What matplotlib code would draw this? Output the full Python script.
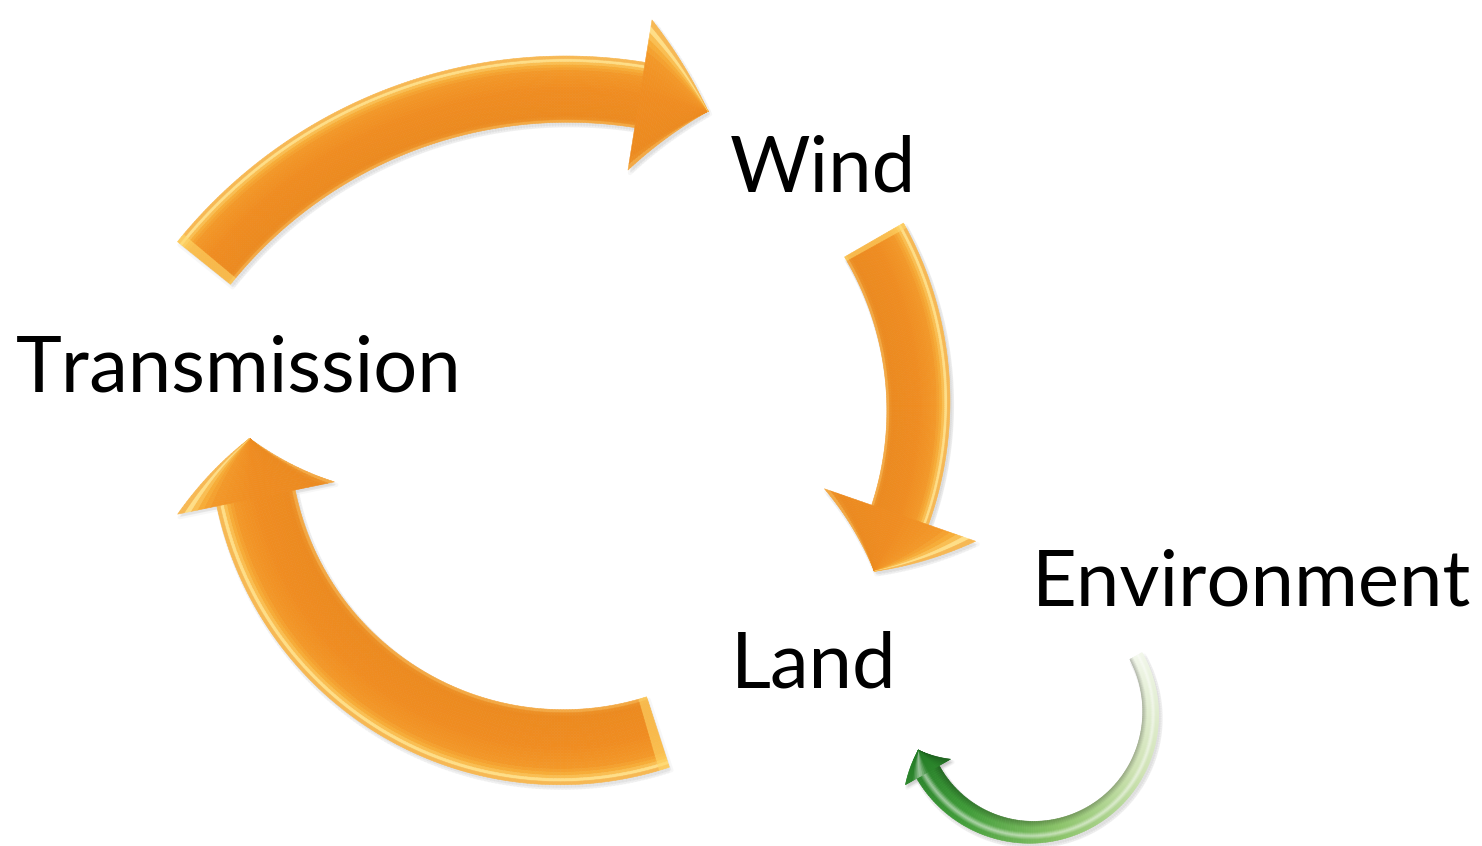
import numpy as np
import matplotlib
matplotlib.use("Agg")
import matplotlib.pyplot as plt
from matplotlib.collections import PolyCollection
from matplotlib.colors import to_rgb

# ---- content -------------------------------------------------------------
labels = ["Wind", "Transmission", "Environment", "Land"]
label_left = [730, 16, 1032, 731]
label_base = [192, 392, 605, 687]

# arrow centre-lines: tail middle, a middle point, head-base middle (pixels)
arrow_tail = [(204, 263), (874, 240), (658, 732), (1136, 656)]
arrow_mid = [(400, 120), (918, 390), (400, 702), (1040, 832)]
arrow_head = [(640, 95), (900, 515), (256, 498), (928, 772)]
arrow_hw_tail = [34, 34, 37, 7]
arrow_hw_end = [33, 30, 40, 13]
arrow_head_hw = [76, 80, 80, 26]
arrow_head_len = [70, 62, 60, 24]
arrow_kind = ["orange", "orange", "orange", "green"]

W, H = 1482, 846
fig = plt.figure(figsize=(W / 100, H / 100), dpi=100)
ax = fig.add_axes([0, 0, 1, 1])
ax.set_xlim(0, W)
ax.set_ylim(H, 0)
ax.axis("off")


def circle3(p1, p2, p3):
    (ax_, ay), (bx, by), (cx, cy) = p1, p2, p3
    d = 2 * (ax_ * (by - cy) + bx * (cy - ay) + cx * (ay - by))
    ux = ((ax_**2 + ay**2) * (by - cy) + (bx**2 + by**2) * (cy - ay) + (cx**2 + cy**2) * (ay - by)) / d
    uy = ((ax_**2 + ay**2) * (cx - bx) + (bx**2 + by**2) * (ax_ - cx) + (cx**2 + cy**2) * (bx - ax_)) / d
    return np.array([ux, uy]), np.hypot(ax_ - ux, ay - uy)


def interp_colors(stops, x):
    xs = [s[0] for s in stops]
    cs = np.array([to_rgb(s[1]) for s in stops])
    return np.array([np.interp(x, xs, cs[:, k]) for k in range(3)])


orange_stops = [(-1.0, "#F6B552"), (-0.86, "#EC8A1F"), (0.0, "#F08C20"),
                (0.55, "#F39828"), (0.76, "#F8B23C"), (0.88, "#FFE08A"),
                (1.0, "#F2A336")]
green_len = [(0.0, "#F2F7EA"), (0.3, "#CFE3B4"), (0.55, "#8CC46A"),
             (0.8, "#3F9C38"), (1.0, "#237C26")]


def colour(kind, s, t):
    if kind == "orange":
        c = interp_colors(orange_stops, t)
        if s < 0.012:
            c = 0.4 * c + 0.6 * np.array(to_rgb("#FFD868"))
        return c
    base = interp_colors(green_len, s)
    hl = max(0.0, 1 - abs(t - 0.35) / 0.35) * 0.55
    dark = max(0.0, (-t - 0.4) / 0.6) * 0.25
    c = base * (1 - hl) + hl
    return c * (1 - dark)


def draw_arrow(p0, p1, p2, hw0, hw1, hh, hl, kind, ns=160, nt=24):
    c, r = circle3(p0, p1, p2)
    a0 = np.arctan2(p0[1] - c[1], p0[0] - c[0])
    am = np.arctan2(p1[1] - c[1], p1[0] - c[0])
    a2 = np.arctan2(p2[1] - c[1], p2[0] - c[0])

    def span(a, b, sgn):
        return (sgn * (b - a)) % (2 * np.pi)
    sgn = 1 if span(a0, am, 1) < span(a0, a2, 1) else -1
    Lb = span(a0, a2, sgn) * r
    Lt = Lb + hl
    lb = np.linspace(0, Lb, ns)
    lh = np.linspace(Lb, Lt, 30)
    ells = np.concatenate([lb, lh])
    hws = np.concatenate([hw0 + (hw1 - hw0) * lb / Lb, hh * (1 - (lh - Lb) / hl)])
    ts = np.linspace(-1, 1, nt + 1)
    th = a0 + sgn * ells / r
    u = np.stack([np.cos(th), np.sin(th)], axis=1)
    polys, cols, sh = [], [], []
    for i in range(len(ells) - 1):
        if ells[i + 1] - ells[i] < 1e-9:
            continue
        for j in range(nt):
            q = []
            for (ii, tt) in ((i, ts[j]), (i + 1, ts[j]), (i + 1, ts[j + 1]), (i, ts[j + 1])):
                q.append(c + (r + tt * hws[ii]) * u[ii])
            polys.append(q)
            cols.append(colour(kind, ells[i] / Lt, 0.5 * (ts[j] + ts[j + 1])))
        q = [c + (r - hws[i]) * u[i], c + (r - hws[i + 1]) * u[i + 1],
             c + (r + hws[i + 1]) * u[i + 1], c + (r + hws[i]) * u[i]]
        sh.append(np.array(q) + np.array([2, 3]))
    ax.add_collection(PolyCollection(sh, facecolors=(0.6, 0.6, 0.6, 0.12),
                                     edgecolors=(0.6, 0.6, 0.6, 0.08), linewidths=3))
    ax.add_collection(PolyCollection(polys, facecolors=cols, edgecolors=cols, linewidths=0.4))


for k in range(len(arrow_tail)):
    draw_arrow(arrow_tail[k], arrow_mid[k], arrow_head[k], arrow_hw_tail[k],
               arrow_hw_end[k], arrow_head_hw[k], arrow_head_len[k], arrow_kind[k])

for txt, x, y in zip(labels, label_left, label_base):
    ax.text(x, y, txt, fontsize=56, family=["Lato", "DejaVu Sans"],
            ha="left", va="baseline", color="black")

fig.savefig("out.png", dpi=100, facecolor="white")
